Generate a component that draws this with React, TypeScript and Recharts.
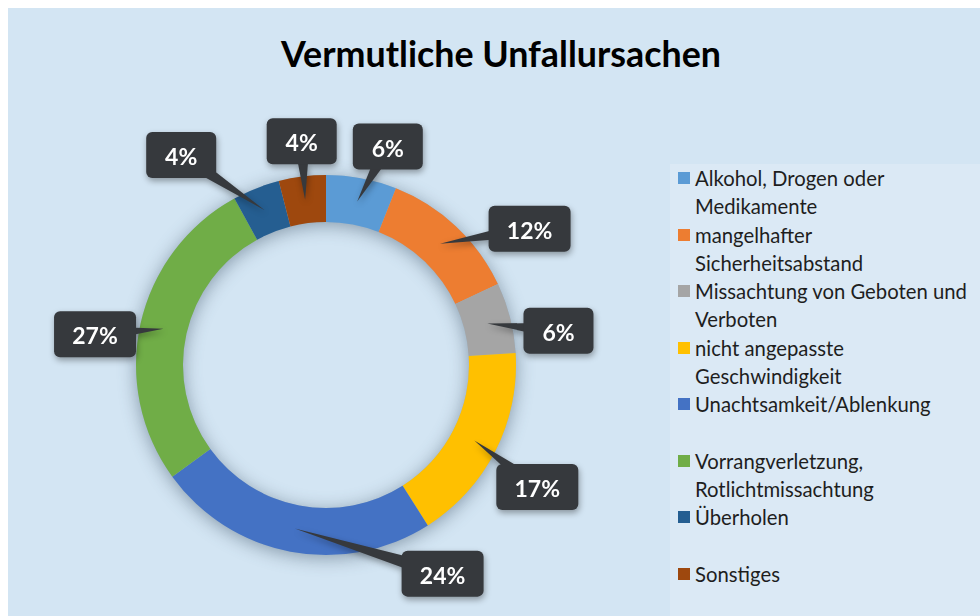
import React from "react";
import { PieChart, Pie, Cell, Legend } from "recharts";

const causes = [
  "Alkohol, Drogen oder Medikamente",
  "mangelhafter Sicherheitsabstand",
  "Missachtung von Geboten und Verboten",
  "nicht angepasste Geschwindigkeit",
  "Unachtsamkeit/Ablenkung",
  "Vorrangverletzung, Rotlichtmissachtung",
  "Überholen",
  "Sonstiges",
];
const shares = [6, 12, 6, 17, 24, 27, 4, 4];
const sliceColors = [
  "#5b9bd5",
  "#ed7d31",
  "#a5a5a5",
  "#ffc000",
  "#4472c4",
  "#70ad47",
  "#255e91",
  "#9e480e",
];

// callouts were dragged around by hand in the original, so nudge them off the mid angle
const calloutAngleShift = [-5, -13, -6, -3, 40, 5, 13, -1];
const calloutGap = [37, 55, 45, 54, 49, 43, 65, 35];

const chartData = causes.map((name, i) => ({ name, value: shares[i] }));

const FONT = "Lato, 'Open Sans', sans-serif";
const RAD = Math.PI / 180;
const boxFill = "#36393d";

function Callout(props: any) {
  const { cx, cy, midAngle, innerRadius, outerRadius, index, value } = props;
  const tipR = (innerRadius + outerRadius) / 2;
  const tx = cx + tipR * Math.cos(-midAngle * RAD);
  const ty = cy + tipR * Math.sin(-midAngle * RAD);
  const a = midAngle + calloutAngleShift[index];
  const d = outerRadius + calloutGap[index];
  const bx = cx + d * Math.cos(-a * RAD);
  const by = cy + d * Math.sin(-a * RAD);
  const text = `${value}%`;
  const w = text.length > 2 ? 82 : 70;
  const h = 46;
  const dx = tx - bx;
  const dy = ty - by;
  const len = Math.hypot(dx, dy) || 1;
  const nx = (-dy / len) * 8;
  const ny = (dx / len) * 8;
  return (
    <g style={{ filter: "drop-shadow(1px 3px 3px rgba(0,0,0,0.35))" }}>
      <polygon
        points={`${bx + nx},${by + ny} ${tx},${ty} ${bx - nx},${by - ny}`}
        fill={boxFill}
      />
      <rect x={bx - w / 2} y={by - h / 2} width={w} height={h} rx={6} fill={boxFill} />
      <text
        x={bx}
        y={by + 1}
        textAnchor="middle"
        dominantBaseline="central"
        fill="#ffffff"
        fontSize={23}
        fontWeight={700}
        fontFamily={FONT}
      >
        {text}
      </text>
    </g>
  );
}

function LegendList() {
  return (
    <div
      style={{
        background: "rgba(255,255,255,0.18)",
        padding: "0 0 10px 8px",
        fontFamily: FONT,
        fontSize: 20.3,
        lineHeight: "28px",
        color: "#1e1e1e",
      }}
    >
      {causes.map((name, i) => (
        <div key={i} style={{ display: "flex", height: 56.5 }}>
          <div
            style={{
              width: 12,
              height: 12,
              marginTop: 8,
              marginRight: 5,
              flex: "0 0 12px",
              background: sliceColors[i],
            }}
          />
          <div style={{ width: 278, whiteSpace: "normal" }}>{name}</div>
        </div>
      ))}
    </div>
  );
}

export default function App() {
  return (
    <div
      style={{
        position: "fixed",
        left: 8,
        top: 8,
        width: 972,
        height: 608,
        background: "#d3e5f3",
        overflow: "hidden",
      }}
    >
      <div
        style={{
          position: "absolute",
          left: 0,
          width: 986,
          top: 24,
          textAlign: "center",
          fontFamily: FONT,
          fontWeight: 700,
          fontSize: 35.8,
          color: "#000",
        }}
      >
        Vermutliche Unfallursachen
      </div>
      <PieChart width={972} height={608} margin={{ top: 0, right: 0, bottom: 0, left: 0 }}>
        <Pie
          data={[{ name: "ring", value: 1 }]}
          dataKey="value"
          cx={318}
          cy={357}
          innerRadius={143}
          outerRadius={190}
          startAngle={90}
          endAngle={-270}
          stroke="none"
          legendType="none"
          isAnimationActive={false}
        >
          <Cell fill="#9db3c6" style={{ filter: "drop-shadow(0px 3px 9px rgba(40,60,80,0.45))" }} />
        </Pie>
        <Pie
          data={chartData}
          dataKey="value"
          nameKey="name"
          cx={318}
          cy={357}
          innerRadius={143}
          outerRadius={190}
          startAngle={90}
          endAngle={-270}
          stroke="none"
          label={Callout}
          labelLine={false}
          isAnimationActive={false}
        >
          {chartData.map((_, i) => (
            <Cell key={i} fill={sliceColors[i]} />
          ))}
        </Pie>
        <Legend
          layout="vertical"
          align="right"
          verticalAlign="top"
          content={LegendList}
          wrapperStyle={{ left: 662, top: 156, width: 310, right: "auto" }}
        />
      </PieChart>
    </div>
  );
}
